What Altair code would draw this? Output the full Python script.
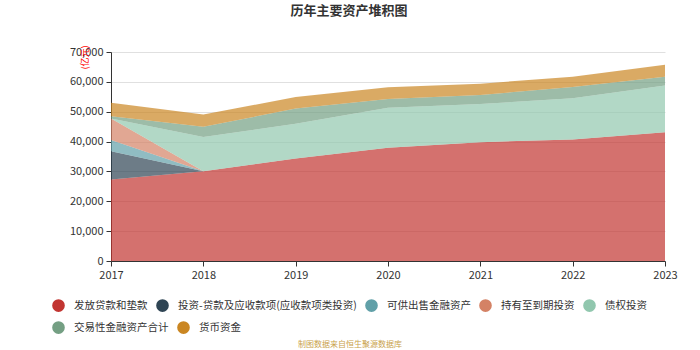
import altair as alt
import pandas as pd

years = [2017, 2018, 2019, 2020, 2021, 2022, 2023]
series_names = [
    "发放贷款和垫款",
    "投资-贷款及应收款项(应收款项类投资)",
    "可供出售金融资产",
    "持有至到期投资",
    "债权投资",
    "交易性金融资产合计",
    "货币资金",
]
loans = [27300, 30100, 34350, 37900, 39800, 40700, 43150]
receivables = [9500, 0, 0, 0, 0, 0, 0]
afs = [3700, 0, 0, 0, 0, 0, 0]
htm = [7200, 0, 0, 0, 0, 0, 0]
debt_inv = [0, 11400, 11600, 13400, 12800, 13800, 15650]
trading = [800, 3450, 5100, 3000, 3000, 3800, 2900]
cash = [4500, 4100, 3900, 3900, 3800, 3400, 4000]
colors = ["#c23531", "#2f4554", "#61a0a8", "#d48265", "#91c7ae", "#749f83", "#ca8622"]

series_values = [loans, receivables, afs, htm, debt_inv, trading, cash]
rows = []
for i, (name, vals) in enumerate(zip(series_names, series_values)):
    for y, v in zip(years, vals):
        rows.append({"年份": y, "类别": name, "金额": v, "idx": i})
df = pd.DataFrame(rows)

FONT = "Noto Sans CJK SC"

x_enc = alt.X("年份:Q", scale=alt.Scale(domain=[2017, 2023], nice=False, zero=False),
              axis=alt.Axis(title=None, values=years, format="d", grid=False, labelFlush=False,
                            domainColor="#333", tickColor="#333", labelColor="#333",
                            labelFontSize=11, labelFont=FONT, tickSize=5, labelPadding=3))
y_enc = alt.Y("y0:Q", scale=alt.Scale(domain=[0, 70000], nice=False),
              axis=alt.Axis(title="(亿元)", titleColor="red", titleFontSize=9, titleFontWeight="normal",
                            titleFont=FONT, titleAngle=-90, titleAlign="right", titleX=-27, titleY=-7,
                            titleBaseline="middle",
                            values=[0, 10000, 20000, 30000, 40000, 50000, 60000, 70000],
                            format=",d", gridColor="#e0e0e0", domainColor="#333", tickColor="#333",
                            labelColor="#333", labelFontSize=11, labelFont=FONT, tickSize=5,
                            labelPadding=3))


def legend_at(ly):
    return alt.Legend(title=None, orient="none", legendX=-59, legendY=ly,
                      direction="horizontal", symbolType="circle",
                      symbolSize=160, symbolOpacity=1, symbolStrokeWidth=0,
                      labelFontSize=10.5, labelFont=FONT, labelColor="#333",
                      labelOffset=9, columnPadding=8, labelLimit=300)


base = alt.Chart(df).transform_stack(
    stack="金额", groupby=["年份"], as_=["y0", "y1"], sort=[alt.SortField("idx", order="ascending")]
)

area_a = base.transform_filter(alt.datum.idx < 5).mark_area(opacity=0.7, interpolate="linear").encode(
    x=x_enc, y=y_enc, y2="y1:Q",
    color=alt.Color("类别:N", scale=alt.Scale(domain=series_names[:5], range=colors[:5]),
                    legend=legend_at(247)),
    detail="idx:N",
)
area_b = base.transform_filter(alt.datum.idx >= 5).mark_area(opacity=0.7, interpolate="linear").encode(
    x=x_enc, y=y_enc, y2="y1:Q",
    color=alt.Color("类别:N", scale=alt.Scale(domain=series_names[5:], range=colors[5:]),
                    legend=legend_at(269)),
    detail="idx:N",
)

footer = alt.Chart(pd.DataFrame({"t": ["制图数据来自恒生聚源数据库"]})).mark_text(
    fontSize=8, font=FONT, color="#c9a24b", align="center", baseline="middle"
).encode(x=alt.value(239), y=alt.value(293), text="t:N")

chart = alt.layer(area_a, area_b, footer).resolve_scale(color="independent").properties(
    width=554,
    height=209,
    padding={"left": 111, "top": 52, "right": 35, "bottom": 89},
    autosize=alt.AutoSizeParams(type="none"),
    title=alt.TitleParams("历年主要资产堆积图", anchor="middle", fontSize=13, fontWeight="bold",
                          font=FONT, color="#333", dx=-39, offset=27),
).configure_view(stroke=None)

chart.save("out.html", embed_options={"renderer": "svg", "actions": False})
